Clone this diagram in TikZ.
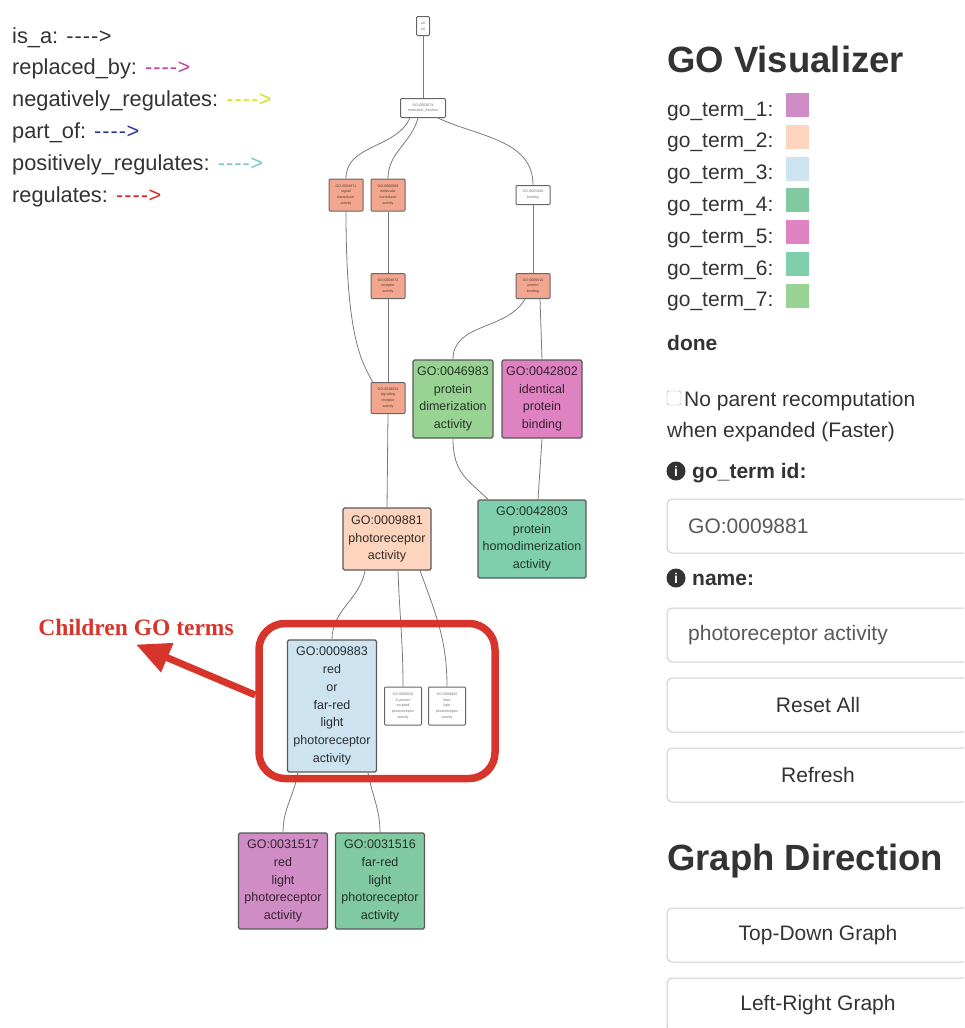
\documentclass[tikz,border=0pt]{standalone}
\usepackage{fontspec}
\setmainfont{Liberation Sans}
\newfontfamily\calloutfont{Liberation Serif}
\usetikzlibrary{positioning, arrows.meta, calc}

\definecolor{txt}{HTML}{333333}
\definecolor{termA}{HTML}{D08CC4}
\definecolor{termB}{HTML}{FDD5BE}
\definecolor{termC}{HTML}{CDE3F0}
\definecolor{termD}{HTML}{80C9A1}
\definecolor{termE}{HTML}{DF82C1}
\definecolor{termF}{HTML}{7FCFAE}
\definecolor{termG}{HTML}{99D394}
\definecolor{salmon}{HTML}{F2A68D}
\definecolor{callout}{HTML}{D7352B}
\definecolor{edgegray}{HTML}{7A7A7A}
\definecolor{boxline}{HTML}{CCCCCC}
\definecolor{relmagenta}{HTML}{C5409D}
\definecolor{relyellow}{HTML}{D6DF2A}
\definecolor{relblue}{HTML}{2C3A9C}
\definecolor{relcyan}{HTML}{7CC6C8}
\definecolor{relred}{HTML}{D9262B}

\newcommand{\relarrow}{-\kern1pt-\kern1pt-\kern1pt-\kern0.5pt>}

\begin{document}
\begin{tikzpicture}[x=1pt, y=-1pt,
    goterm/.style={draw=black!65, line width=1.1pt, rounded corners=1.5pt, align=center, inner sep=0pt, font=\fontsize{12.5}{17.8}\selectfont},
    tinyterm/.style={draw=black!60, line width=1pt, rounded corners=1pt, align=center, inner sep=0pt, font=\fontsize{3.6}{5.8}\selectfont},
    edge/.style={draw=edgegray, line width=0.8pt},
    legend/.style={anchor=base west, inner sep=0pt, font=\fontsize{21.8}{22}\selectfont, text=txt},
    paneltext/.style={inner sep=0pt, font=\fontsize{21}{25}\selectfont, text=txt},
    heading/.style={anchor=base west, inner sep=0pt, font=\bfseries\fontsize{36.5}{40}\selectfont, text=txt},
    panelbox/.style={draw=boxline, line width=1pt, rounded corners=5pt}]

    \useasboundingbox (0,0) rectangle (964,1028);
    \clip (0,0) rectangle (964,1028);

    % ---------------- LEGEND ----------------
    \foreach \rel/\col [count=\i] in {is\_a/txt, replaced\_by/relmagenta, negatively\_regulates/relyellow, part\_of/relblue, positively\_regulates/relcyan, regulates/relred}
        \node[legend] (rel\i) at (12,{43+31.8*(\i-1)}) {\rel: \textcolor{\col}{\relarrow}};

    % ---------------- GO GRAPH ----------------
    \node[tinyterm, fill=white, text=black!55, minimum width=13, minimum height=19] (root) at (423,26) {all\\all};
    \node[tinyterm, fill=white, text=black!55, minimum width=45, minimum height=19] (molfunc) at (423,108) {GO:0003674\\molecular\_function};

    \node[tinyterm, fill=salmon, text=salmon!35!black, minimum width=34, minimum height=32] (sigtrans) at (346,195) {GO:0004871\\signal\\transducer\\activity};
    \node[tinyterm, fill=salmon, text=salmon!35!black, minimum width=34, minimum height=32] (moltrans) at (388,195) {GO:0060089\\molecular\\transducer\\activity};
    \node[tinyterm, fill=white, text=black!55, minimum width=34, minimum height=19] (binding) at (533,195) {GO:0005488\\binding};

    \node[tinyterm, fill=salmon, text=salmon!35!black, minimum width=34, minimum height=25] (receptor) at (388,286) {GO:0004872\\receptor\\activity};
    \node[tinyterm, fill=salmon, text=salmon!35!black, minimum width=34, minimum height=25] (protbind) at (533,286) {GO:0005515\\protein\\binding};

    \node[tinyterm, fill=salmon, text=salmon!35!black, minimum width=34, minimum height=31] (sigrec) at (388,398) {GO:0038023\\signaling\\receptor\\activity};
    \node[goterm, fill=termG, text=termG!25!black, minimum width=80, minimum height=78] (dimer) at (453,399) {GO:0046983\\protein\\dimerization\\activity};
    \node[goterm, fill=termE, text=termE!25!black, minimum width=80, minimum height=78] (ident) at (542,399) {GO:0042802\\identical\\protein\\binding};

    \node[goterm, fill=termB, text=termB!20!black, minimum width=88, minimum height=62] (photorec) at (387,539) {GO:0009881\\photoreceptor\\activity};
    \node[goterm, fill=termF, text=termF!25!black, minimum width=108, minimum height=78] (homodimer) at (532,539) {GO:0042803\\protein\\homodimerization\\activity};

    \node[goterm, fill=termC, text=termC!20!black, minimum width=89, minimum height=132] (redfar) at (332,706) {GO:0009883\\red\\or\\far-red\\light\\photoreceptor\\activity};
    \node[tinyterm, fill=white, text=black!55, minimum width=37, minimum height=38] (gprot) at (403,706) {GO:0008020\\G-protein\\coupled\\photoreceptor\\activity};
    \node[tinyterm, fill=white, text=black!55, minimum width=37, minimum height=38] (bluelight) at (447,706) {GO:0009882\\blue\\light\\photoreceptor\\activity};

    \node[goterm, fill=termA, text=termA!25!black, minimum width=89, minimum height=96] (redlight) at (283,881) {GO:0031517\\red\\light\\photoreceptor\\activity};
    \node[goterm, fill=termD, text=termD!25!black, minimum width=89, minimum height=96] (farred) at (380,881) {GO:0031516\\far-red\\light\\photoreceptor\\activity};

    % edges
    \draw[edge] (root.south) -- (molfunc.north);
    \draw[edge] ([xshift=-13pt]molfunc.south) to[out=-115, in=90] (sigtrans.north);
    \draw[edge] ([xshift=-5pt]molfunc.south) to[out=-105, in=90] (moltrans.north);
    \draw[edge] ([xshift=15pt]molfunc.south) to[out=-25, in=90] (binding.north);
    \draw[edge] (sigtrans.south) .. controls +(0,130) and +(-10,-20) .. ([xshift=2pt]sigrec.north west);
    \draw[edge] (moltrans.south) -- (receptor.north);
    \draw[edge] (receptor.south) -- (sigrec.north);
    \draw[edge] (binding.south) -- (protbind.north);
    \draw[edge] ([xshift=-8pt]protbind.south) to[out=-120, in=90] (dimer.north);
    \draw[edge] ([xshift=7pt]protbind.south) -- (ident.north);
    \draw[edge] (sigrec.south) -- (photorec.north);
    \draw[edge] (dimer.south) .. controls +(0,35) and +(-20,-20) .. ([xshift=-44pt]homodimer.north);
    \draw[edge] (ident.south) -- ([xshift=6pt]homodimer.north);
    \draw[edge] ([xshift=-22pt]photorec.south) to[out=-100, in=90] (redfar.north);
    \draw[edge] ([xshift=11pt]photorec.south) to[out=-88, in=90] (gprot.north);
    \draw[edge] ([xshift=33pt]photorec.south) to[out=-70, in=90] (bluelight.north);
    \draw[edge] ([xshift=-34pt]redfar.south) to[out=-100, in=90] (redlight.north);
    \draw[edge] ([xshift=36pt]redfar.south) to[out=-80, in=90] (farred.north);

    % ---------------- CALLOUT ----------------
    \node[draw=callout, line width=7.5pt, rounded corners=26pt, minimum width=236, minimum height=155] (childbox) at (377,701) {};
    \node[font=\calloutfont\bfseries\fontsize{23.5}{24}\selectfont, text=callout, inner sep=0pt] (childlabel) at (136,627) {Children GO terms};
    \draw[callout, line width=7pt, -{Triangle[length=34pt, width=30pt]}] ([yshift=6pt]childbox.west) -- ([yshift=-9pt]childlabel.south);

    % ---------------- RIGHT PANEL ----------------
    \node[heading] (title) at (667,72) {GO Visualizer};
    \foreach \col [count=\i] in {termA, termB, termC, termD, termE, termF, termG} {
        \node[paneltext, anchor=base west] (term\i) at (667,{116+31.8*(\i-1)}) {go\_term\_\i:};
        \node[fill=\col, minimum width=23, minimum height=24, inner sep=0pt, anchor=west] (swatch\i) at (786,{105+31.8*(\i-1)}) {};
    }
    \node[paneltext, anchor=base west, font=\bfseries\fontsize{21}{25}\selectfont] (done) at (667,350) {done};

    \node[draw=black!40, rounded corners=2pt, minimum size=14, inner sep=0pt] (chk) at (674,398) {};
    \node[paneltext, anchor=base west] (noparent) at (684,406) {No parent recomputation};
    \node[paneltext, anchor=base west] (expanded) at (667,437) {when expanded (Faster)};

    \node[circle, fill=txt, inner sep=0pt, minimum size=19, text=white, font=\bfseries\fontsize{14}{14}\selectfont] (infoid) at (676,471) {i};
    \node[paneltext, anchor=base west, font=\bfseries\fontsize{21}{25}\selectfont] (idlabel) at (692,478) {go\_term id:};
    \draw[panelbox] (667,499) rectangle (990,553);
    \node[paneltext, anchor=west, text=black!65] (idvalue) at (688,526) {GO:0009881};

    \node[circle, fill=txt, inner sep=0pt, minimum size=19, text=white, font=\bfseries\fontsize{14}{14}\selectfont] (infoname) at (676,578) {i};
    \node[paneltext, anchor=base west, font=\bfseries\fontsize{21}{25}\selectfont] (namelabel) at (692,585) {name:};
    \draw[panelbox] (667,608) rectangle (990,662);
    \node[paneltext, anchor=west, text=black!65] (namevalue) at (688,635) {photoreceptor activity};

    \foreach \ytop/\lbl [count=\k] in {678/Reset All, 748/Refresh, 908/Top-Down Graph, 978/Left-Right Graph} {
        \draw[panelbox] (667,\ytop) rectangle (990,\ytop+54);
        \node[paneltext] (btn\k) at (818,\ytop+27) {\lbl};
    }
    \node[heading] (direction) at (667,870) {Graph Direction};
\end{tikzpicture}
\end{document}
